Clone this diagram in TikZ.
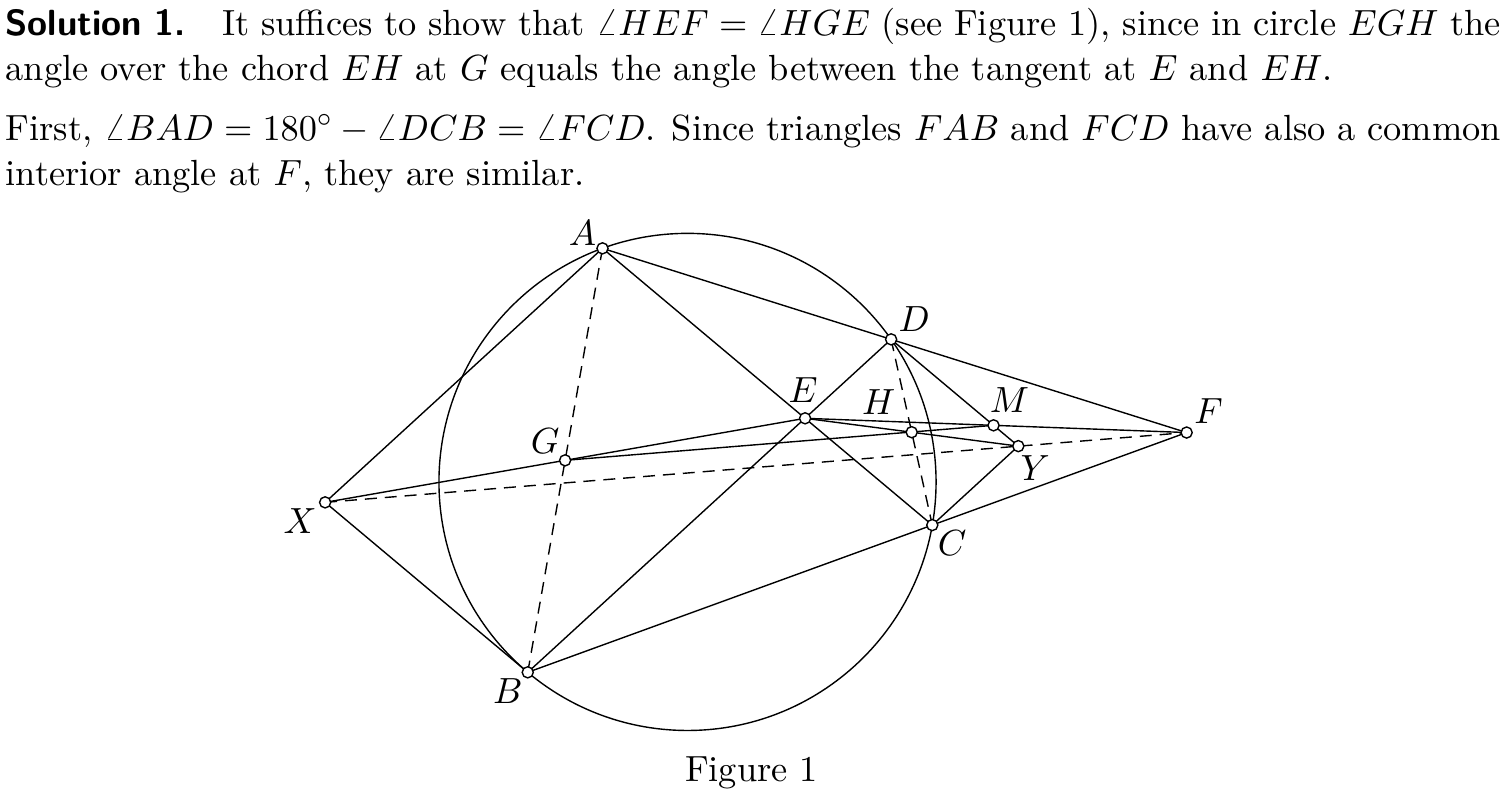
\documentclass[tikz,border=0pt]{standalone}
\usepackage{fontspec}
\usetikzlibrary{calc}
\begin{document}
\begin{tikzpicture}[x=0.301pt,y=-0.301pt,line width=0.42pt,
  pt/.style={circle,draw,fill=white,inner sep=0pt,minimum size=3.35pt,line width=0.42pt},
  lbl/.style={inner sep=0pt,font=\fontsize{10.95}{13.6}\selectfont},
  dsh/.style={dash pattern=on 3.6pt off 2.4pt},
  txt/.style={anchor=base west,inner sep=0pt,font=\fontsize{10.95}{13.6}\selectfont}]
\useasboundingbox (0,0) rectangle (1508,794);
% text
\node[txt] (l1) at (5,35) {\hbox to 450pt{\textsf{\bfseries Solution 1.}\quad It suffices to show that $\angle HEF=\angle HGE$ (see Figure~1), since in circle $EGH$ the}};
\node[txt] (l2) at (5,80) {angle over the chord $EH$ at $G$ equals the angle between the tangent at $E$ and $EH$.};
\node[txt] (l3) at (5,140) {\hbox to 450pt{First, $\angle BAD=180^\circ-\angle DCB=\angle FCD$. Since triangles $FAB$ and $FCD$ have also a common}};
\node[txt] (l4) at (5,185) {interior angle at $F$, they are similar.};
% geometry
\coordinate (O) at (687.5,481.9);
\coordinate (A) at (602.49,248.34);
\coordinate (B) at (527.73,672.30);
\coordinate (C) at (932.27,525.06);
\coordinate (D) at (891.10,339.34);
\coordinate (E) at (intersection of A--C and B--D);
\coordinate (F) at (intersection of A--D and B--C);
\coordinate (X) at ($(A)+(B)-(E)$);
\coordinate (Y) at ($(D)+(C)-(E)$);
\coordinate (G) at ($(A)!0.5!(B)$);
\coordinate (H) at ($(C)!0.5!(D)$);
\coordinate (M) at (intersection of E--F and D--Y);
\draw (O) circle[radius=248.55];
\draw (A) -- (F);
\draw (B) -- (F);
\draw (A) -- (C);
\draw (B) -- (D);
\draw (X) -- (A);
\draw (X) -- (B);
\draw (X) -- (E);
\draw (E) -- (F);
\draw (E) -- (Y);
\draw (G) -- (M);
\draw (D) -- (Y);
\draw (Y) -- (C);
\draw[dsh] (A) -- (B);
\draw[dsh] (D) -- (C);
\draw[dsh] (X) -- (F);
% markers
\foreach \p in {A,B,C,D,E,F,G,H,M,X,Y} \node[pt] (n\p) at (\p) {};
% labels
\node[lbl] (tA) at ($(A)+(-20,-15)$) {$A$};
\node[lbl] (tB) at ($(B)+(-20,19)$) {$B$};
\node[lbl] (tC) at ($(C)+(20,18)$) {$C$};
\node[lbl] (tD) at ($(D)+(23,-20)$) {$D$};
\node[lbl] (tE) at ($(E)+(-2,-28)$) {$E$};
\node[lbl] (tF) at ($(F)+(22,-21)$) {$F$};
\node[lbl] (tG) at ($(G)+(-20,-19)$) {$G$};
\node[lbl] (tH) at ($(H)+(-33,-30)$) {$H$};
\node[lbl] (tM) at ($(M)+(16,-25)$) {$M$};
\node[lbl] (tX) at ($(X)+(-25,19)$) {$X$};
\node[lbl] (tY) at ($(Y)+(17,22)$) {$Y$};
\node[txt,anchor=base] (cap) at (751.5,781.7) {Figure 1};
\end{tikzpicture}
\end{document}
